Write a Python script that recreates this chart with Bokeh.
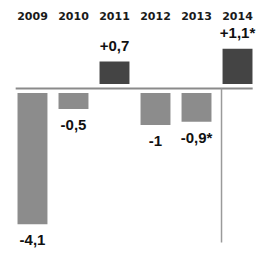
from bokeh.plotting import figure
from bokeh.models import ColumnDataSource, Range1d
from bokeh.embed import file_html
from bokeh.resources import INLINE
from bokeh.core.properties import value

years = ["2009", "2010", "2011", "2012", "2013", "2014"]
values = [-4.1, -0.5, 0.7, -1.0, -0.9, 1.1]
labels = ["-4,1", "-0,5", "+0,7", "-1", "-0,9*", "+1,1*"]

W, H = 256, 253
p = figure(width=W, height=H, output_backend="svg", toolbar_location=None,
           x_range=Range1d(-0.780, 5.463), y_range=Range1d(-5.156, 2.75),
           min_border=0)
p.axis.visible = False
p.grid.visible = False
p.outline_line_color = None
p.background_fill_color = "white"
p.border_fill_color = "white"

xs = list(range(len(years)))
gap = 0.14
bottoms = [gap if v > 0 else -gap for v in values]
tops = [b + v for b, v in zip(bottoms, values)]
colors = ["#444444" if v > 0 else "#8c8c8c" for v in values]
src = ColumnDataSource(dict(x=xs, bottom=bottoms, top=tops, color=colors))
p.vbar(x="x", bottom="bottom", top="top", width=0.73, fill_color="color",
       line_color=None, source=src)

# baseline and separator
p.line(x=[-0.41, 5.37], y=[0, 0], line_color="#8a8a8a", line_width=2)
p.line(x=[4.61, 4.61], y=[0, -4.81], line_color="#9a9a9a", line_width=1.5)

# year labels
p.text(x=xs, y=[2.28] * len(xs), text=years, text_align="center",
       text_baseline="middle", text_font=value("DejaVu Sans"),
       text_font_style="bold", text_font_size="11px", text_color="#1a1a1a")

# value labels
off = 0.5
ly = [t + off if v > 0 else t - off for t, v in zip(tops, values)]
p.text(x=xs, y=ly, text=labels, text_align="center", text_baseline="middle",
       text_font=value("Liberation Sans"), text_font_style="bold",
       text_font_size="15px", text_color="#111111")

open("out.html", "w").write(file_html(p, INLINE))
